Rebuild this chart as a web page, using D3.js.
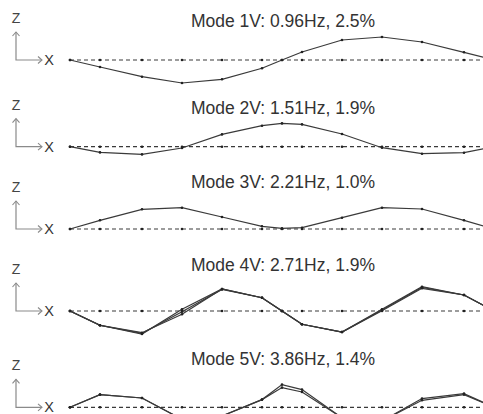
<!DOCTYPE html>
<html>
<head>
<meta charset="utf-8">
<script src="https://cdn.jsdelivr.net/npm/d3@7"></script>
<style>
  html, body { margin: 0; padding: 0; background: #fff; }
  svg { display: block; }
  text { font-family: "Liberation Sans", Arial, sans-serif; }
</style>
</head>
<body>
<svg id="chart" width="483" height="414"></svg>
<script>
// ---- data ----
const stations = [0, 30, 72, 112, 152, 192, 212, 232, 272, 312, 352, 394, 424];
const modeTitles = [
  "Mode 1V: 0.96Hz, 2.5%",
  "Mode 2V: 1.51Hz, 1.9%",
  "Mode 3V: 2.21Hz, 1.0%",
  "Mode 4V: 2.71Hz, 1.9%",
  "Mode 5V: 3.86Hz, 1.4%"
];
const mode1V = [
  [0, -7, -16.7, -23, -19.3, -8.3, 0, 8, 20, 23, 18, 7.7, 0]
];
const mode2V = [
  [0, -5.7, -7.7, -1.3, 12.3, 21, 23.3, 22.3, 12.7, -1, -7, -6, 0]
];
const mode3V = [
  [0, 8.7, 19.7, 21.3, 12, 2.7, 0.7, 1.3, 11.3, 21.3, 20, 8.7, 0]
];
const mode4V = [
  [0, -14.3, -23, 1.7, 22, 13.3, 0, -13.3, -21, 1.7, 24.3, 16, 0],
  [0, -14.3, -22.3, -0.8, 21.5, 13.3, 0, -13.3, -21, 1, 23.5, 16, 0],
  [0, -14.3, -21.7, -3.3, 22, 13.3, 0, -13.3, -21, 0.3, 22.7, 16, 0]
];
const mode5V = [
  [0, 12.7, 9.3, -12, -8.7, 7.7, 22.7, 17.7, -10.5, -13.7, 8.7, 13.7, 0],
  [0, 12.7, 9.3, -12, -8.7, 7.7, 19.7, 15.3, -10.5, -13.7, 7, 12.7, 0]
];
const modes = [mode1V, mode2V, mode3V, mode4V, mode5V];

// ---- layout ----
const baselines = [60, 146.7, 229, 311, 407.3];
const titleYs = [20.7, 108.3, 181.7, 265, 359];

const svg = d3.select("#chart");
const x = d3.scaleLinear().domain([0, 424]).range([70, 494]);
const lineColor = "#3a3a3a";

modes.forEach((series, i) => {
  const b = baselines[i];
  const y = d3.scaleLinear().domain([-30, 30]).range([b + 30, b - 30]);
  const g = svg.append("g");

  // title
  g.append("text")
    .attr("x", x(212) + 1)
    .attr("y", titleYs[i] + 6)
    .attr("text-anchor", "middle")
    .attr("font-size", 17.5)
    .attr("fill", "#333")
    .text(modeTitles[i]);

  // axis icon
  const ix = 16;
  g.append("text").attr("x", ix).attr("y", b - 42 + 5)
    .attr("text-anchor", "middle")
    .attr("font-size", 14).attr("fill", "#444").text("Z");
  g.append("path")
    .attr("d", `M${ix},${b - 28} L${ix},${b} L${ix + 26},${b}`)
    .attr("fill", "none").attr("stroke", "#8a8a8a").attr("stroke-width", 1.2);
  g.append("path")
    .attr("d", `M${ix - 3.5},${b - 24} L${ix},${b - 28} L${ix + 3.5},${b - 24}`)
    .attr("fill", "none").attr("stroke", "#8a8a8a").attr("stroke-width", 1.1);
  g.append("path")
    .attr("d", `M${ix + 22},${b - 3.5} L${ix + 26},${b} L${ix + 22},${b + 3.5}`)
    .attr("fill", "none").attr("stroke", "#8a8a8a").attr("stroke-width", 1.1);
  g.append("text").attr("x", ix + 33).attr("y", b + 5)
    .attr("text-anchor", "middle")
    .attr("font-size", 14.5).attr("fill", "#333").text("X");

  // undeformed dashed line
  g.append("line")
    .attr("x1", x(0)).attr("x2", x(424))
    .attr("y1", y(0)).attr("y2", y(0))
    .attr("stroke", "#3a3a3a").attr("stroke-width", 1.2)
    .attr("stroke-dasharray", "4,3");
  g.selectAll("circle.base").data(stations).join("circle")
    .attr("class", "base")
    .attr("cx", d => x(d)).attr("cy", y(0)).attr("r", 1.3)
    .attr("fill", "#222");

  // mode shapes
  const line = d3.line().x((d, k) => x(stations[k])).y(d => y(d));
  series.forEach(vals => {
    g.append("path").datum(vals)
      .attr("d", line)
      .attr("fill", "none").attr("stroke", lineColor).attr("stroke-width", 1.2);
    g.selectAll(null).data(vals).join("circle")
      .attr("cx", (d, k) => x(stations[k])).attr("cy", d => y(d)).attr("r", 1.3)
      .attr("fill", "#222");
  });
});
</script>
</body>
</html>
